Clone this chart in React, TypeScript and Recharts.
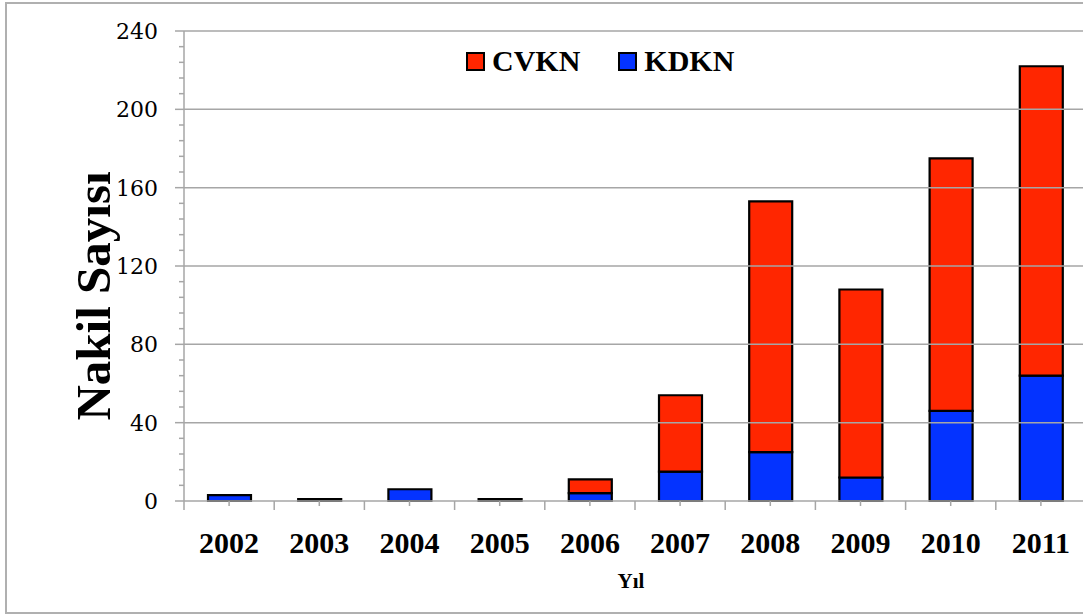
import { Bar, BarChart, Legend, ReferenceLine, XAxis, YAxis } from "recharts";

// Nakil sayıları (yıllara göre)
const years = ["2002", "2003", "2004", "2005", "2006", "2007", "2008", "2009", "2010", "2011"];
const kdkn = [3, 1, 6, 1, 4, 15, 25, 12, 46, 64];
const cvkn = [0, 0, 0, 0, 7, 39, 128, 96, 129, 158];

const majorTicks = [0, 40, 80, 120, 160, 200, 240];
// ara çentikler 8'er birim
const allTicks = [
  0, 8, 16, 24, 32, 40, 48, 56, 64, 72, 80, 88, 96, 104, 112, 120, 128, 136, 144, 152, 160, 168, 176, 184, 192, 200,
  208, 216, 224, 232, 240,
];

const legendItems = [
  { name: "CVKN", color: "#ff2600" },
  { name: "KDKN", color: "#0433ff" },
];

const data = years.map((year, i) => ({ year, KDKN: kdkn[i], CVKN: cvkn[i] }));

const CHART_W = 1090;
const CHART_H = 615;
const MARGIN = { top: 31, right: 4, left: 124, bottom: 0 };
const Y_W = 60;
const PLOT_W = CHART_W - MARGIN.left - MARGIN.right - Y_W;
const CAT_W = PLOT_W / years.length;
const GRID = "#a6a6a6";

const YTick = (props: any) => {
  const { x, y, payload } = props;
  const major = majorTicks.includes(payload.value);
  return (
    <g>
      <line x1={x - (major ? 9 : 5)} x2={x} y1={y} y2={y} stroke={GRID} strokeWidth={1.5} />
      {major && (
        <text x={x - 26} y={y} dy={8} textAnchor="end" fontFamily="DejaVu Serif" fontSize={22} fill="#000">
          {payload.value}
        </text>
      )}
    </g>
  );
};

const XTick = (props: any) => {
  const { x, y, payload, index } = props;
  return (
    <g>
      <line x1={x} x2={x} y1={y} y2={y + 5} stroke={GRID} strokeWidth={1.5} />
      <line x1={x - CAT_W / 2} x2={x - CAT_W / 2} y1={y} y2={y + 9} stroke={GRID} strokeWidth={1.5} />
      {index === years.length - 1 && (
        <line x1={x + CAT_W / 2} x2={x + CAT_W / 2} y1={y} y2={y + 9} stroke={GRID} strokeWidth={1.5} />
      )}
      <text x={x} y={y + 52} textAnchor="middle" fontFamily="Liberation Serif" fontWeight="bold" fontSize={30} fill="#000">
        {payload.value}
      </text>
    </g>
  );
};

const LegendContent = () => (
  <div style={{ display: "flex", alignItems: "center", fontFamily: "Liberation Serif", fontWeight: "bold", fontSize: 30, color: "#000" }}>
    {legendItems.map((it, i) => (
      <div key={it.name} style={{ display: "flex", alignItems: "center", marginRight: i === 0 ? 38 : 0 }}>
        <span style={{ display: "inline-block", width: 15, height: 15, background: it.color, border: "2px solid #000", marginRight: 7 }} />
        <span>{it.name}</span>
      </div>
    ))}
  </div>
);

export default function App() {
  return (
    <div style={{ position: "absolute", left: 0, top: 0, width: 1083, height: 615, overflow: "hidden", background: "#fff" }}>
      <div style={{ position: "absolute", left: 5, top: 2, width: 1120, height: 608, border: "2px solid #b0b0b0" }} />
      <div style={{ position: "absolute", left: 0, top: 0 }}>
        <BarChart width={CHART_W} height={CHART_H} data={data} margin={MARGIN}>
          {majorTicks.slice(1).map((t) => (
            <ReferenceLine key={t} y={t} stroke={GRID} strokeWidth={1.5} />
          ))}
          <XAxis
            dataKey="year"
            height={114}
            tickSize={0}
            tickMargin={0}
            tickLine={false}
            axisLine={{ stroke: GRID, strokeWidth: 1.5 }}
            tick={<XTick />}
            interval={0}
          />
          <YAxis
            width={Y_W}
            domain={[0, 240]}
            ticks={allTicks}
            interval={0}
            tickSize={0}
            tickMargin={0}
            tickLine={false}
            axisLine={{ stroke: GRID, strokeWidth: 1.5 }}
            tick={<YTick />}
          />
          <Legend
            layout="vertical"
            align="center"
            verticalAlign="middle"
            content={<LegendContent />}
            wrapperStyle={{ top: 44, left: 466, width: 320 }}
          />
          <Bar dataKey="KDKN" stackId="a" fill="#0433ff" stroke="#000" strokeWidth={2.2} barSize={43} isAnimationActive={false} />
          <Bar dataKey="CVKN" stackId="a" fill="#ff2600" stroke="#000" strokeWidth={2.2} barSize={43} isAnimationActive={false} />
        </BarChart>
      </div>
      {/* eksen başlıkları */}
      <svg width={1083} height={615} style={{ position: "absolute", left: 0, top: 0, pointerEvents: "none" }}>
        <text
          x={110}
          y={296}
          transform="rotate(-90, 110, 296)"
          textAnchor="middle"
          fontFamily="Liberation Serif"
          fontWeight="bold"
          fontSize={49}
          fill="#000"
        >
          Nakil Sayısı
        </text>
        <text x={631} y={588} textAnchor="middle" fontFamily="Liberation Serif" fontWeight="bold" fontSize={21} fill="#000">
          Yıl
        </text>
      </svg>
    </div>
  );
}
